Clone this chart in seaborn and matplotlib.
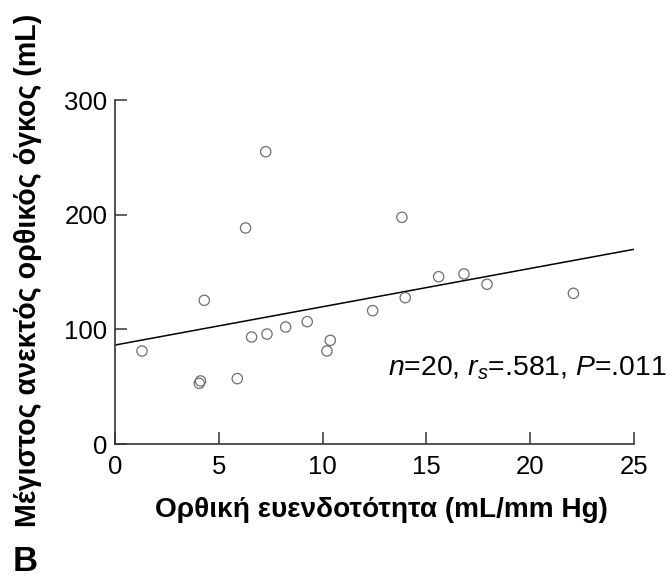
import matplotlib
matplotlib.use("Agg")
import matplotlib.pyplot as plt
import seaborn as sns
import pandas as pd

compliance = [1.30, 4.30, 4.06, 4.12, 5.89, 6.29, 6.58, 7.26, 7.32, 8.22,
              9.26, 10.21, 10.37, 12.41, 13.82, 13.98, 15.59, 16.81, 17.92, 22.08]
volume = [81.1, 125.3, 52.9, 55.0, 57.0, 188.4, 93.3, 254.9, 95.9, 102.0,
          106.7, 81.1, 90.4, 116.3, 197.7, 127.6, 145.9, 148.3, 139.3, 131.4]
fit_x = [0, 25]
fit_y = [86.3, 169.8]
x_ticks = [0, 5, 10, 15, 20, 25]
y_ticks = [0, 100, 200, 300]
x_label = "Ορθική ευενδοτότητα (mL/mm Hg)"
y_label = "Μέγιστος ανεκτός ορθικός όγκος (mL)"
annot = r"$n$=20, $r_s$=.581, $P$=.011"
panel = "B"

sns.set_theme(style="white")
plt.rcParams["font.family"] = ["Liberation Sans", "DejaVu Sans"]
plt.rcParams["mathtext.fontset"] = "custom"
plt.rcParams["mathtext.rm"] = "Liberation Sans"
plt.rcParams["mathtext.it"] = "Liberation Sans:italic"
plt.rcParams["text.color"] = "black"

df = pd.DataFrame({"x": compliance, "y": volume})
fit = pd.DataFrame({"x": fit_x, "y": fit_y})

W, H = 672, 581
fig = plt.figure(figsize=(W / 100, H / 100), dpi=100)
ax = fig.add_axes([115 / W, 1 - 444 / H, (634 - 115) / W, (444 - 100) / H])

sns.lineplot(data=fit, x="x", y="y", ax=ax, color="black", linewidth=1.1)
sns.scatterplot(data=df, x="x", y="y", ax=ax, s=55, facecolor="none",
                edgecolor="#6e6e6e", linewidth=0.9, zorder=3)

ax.set_xlim(0, 25)
ax.set_ylim(0, 300)
ax.set_xticks(x_ticks)
ax.set_yticks(y_ticks)
ax.set_xticklabels([str(t) for t in x_ticks])
ax.set_yticklabels([str(t) for t in y_ticks])
for s in ["top", "right"]:
    ax.spines[s].set_visible(False)
for s in ["left", "bottom"]:
    ax.spines[s].set_color("#333333")
    ax.spines[s].set_linewidth(1.2)
ax.tick_params(axis="both", which="major", direction="in", length=8.6, width=1.1,
               color="#333333", labelsize=18.5, labelcolor="black",
               bottom=True, left=True, top=False, right=False)
ax.tick_params(axis="x", pad=8)
ax.tick_params(axis="y", pad=5.5)
ax.set_xlabel("")
ax.set_ylabel("")

fig.text(381 / W, 1 - 517 / H, x_label, ha="center", va="baseline",
         fontsize=20.2, fontweight="bold")
fig.text(28 / W, 1 - 270 / H, y_label, ha="center", va="center",
         rotation=90, fontsize=20.6, fontweight="bold")
fig.text(388 / W, 1 - 375 / H, annot, ha="left", va="baseline", fontsize=20.4)
fig.text(13 / W, 1 - 571 / H, panel, ha="left", va="baseline", fontsize=25,
         fontweight="bold")

fig.savefig("out.png", dpi=100)
